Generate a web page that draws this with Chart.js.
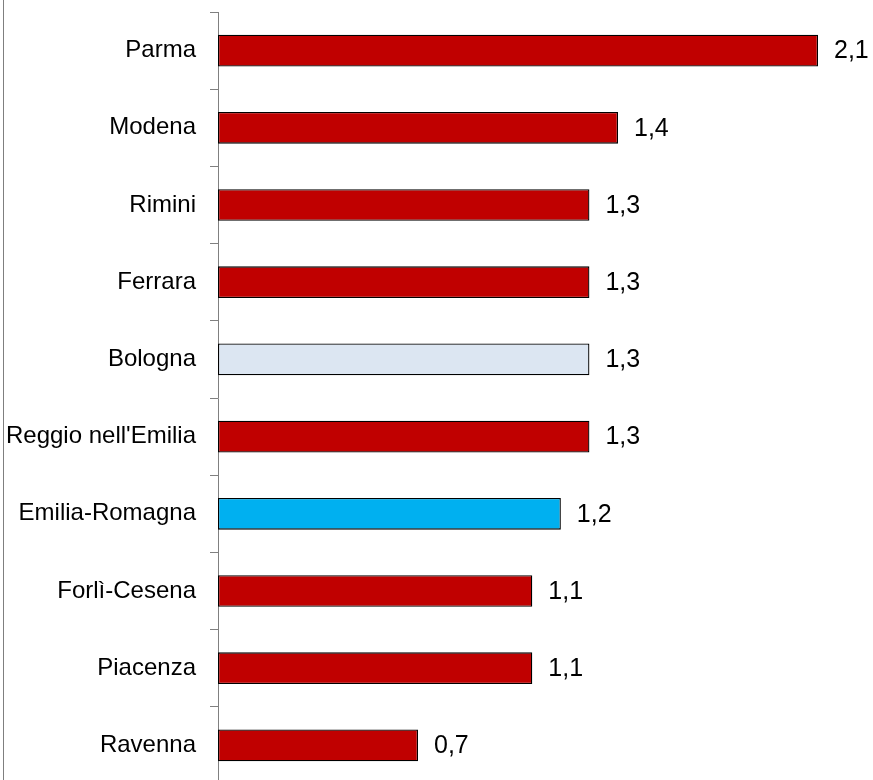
<!DOCTYPE html>
<html>
<head>
<meta charset="utf-8">
<script src="https://cdn.jsdelivr.net/npm/chart.js@4.4.1/dist/chart.umd.min.js"></script>
<style>
  html, body { margin: 0; padding: 0; background: #fff; overflow: hidden; }
  #wrap { position: relative; width: 873px; height: 800px; }
  #edge { position: absolute; left: 3px; top: 0; width: 1px; height: 780px; background: #7f7f7f; }
  canvas { position: absolute; left: 0; top: 0; }
</style>
</head>
<body>
<div id="wrap">
  <canvas id="c" width="873" height="800"></canvas>
  <div id="edge"></div>
</div>
<script>
const categories = ["Parma", "Modena", "Rimini", "Ferrara", "Bologna", "Reggio nell'Emilia", "Emilia-Romagna", "Forlì-Cesena", "Piacenza", "Ravenna"];
const values = [2.1, 1.4, 1.3, 1.3, 1.3, 1.3, 1.2, 1.1, 1.1, 0.7];
const barColors = ["#C00000", "#C00000", "#C00000", "#C00000", "#DCE6F2", "#C00000", "#00B0F0", "#C00000", "#C00000", "#C00000"];

const FONT = "'Liberation Sans', Arial, sans-serif";

const valueLabels = {
  id: 'valueLabels',
  afterDatasetsDraw(chart) {
    const ctx = chart.ctx;
    const meta = chart.getDatasetMeta(0);
    ctx.save();
    ctx.font = "25px " + FONT;
    ctx.fillStyle = "#000";
    ctx.textAlign = "left";
    ctx.textBaseline = "middle";
    meta.data.forEach((bar, i) => {
      const txt = values[i].toFixed(1).replace('.', ',');
      ctx.fillText(txt, bar.x + 16, bar.y + 1);
    });
    ctx.restore();
  }
};

new Chart(document.getElementById('c'), {
  type: 'bar',
  data: {
    labels: categories,
    datasets: [{
      data: values,
      backgroundColor: barColors,
      borderColor: "#000",
      borderWidth: 1.3,
      borderSkipped: false,
      categoryPercentage: 1,
      barPercentage: 0.41
    }]
  },
  options: {
    indexAxis: 'y',
    responsive: false,
    animation: false,
    devicePixelRatio: 1,
    layout: { padding: { left: 0, right: 0, top: 12, bottom: 16 } },
    plugins: { legend: { display: false }, tooltip: { enabled: false } },
    scales: {
      x: {
        display: false,
        min: 0,
        max: 2.2925
      },
      y: {
        afterFit(scale) { scale.width = 218; scale.paddingTop = 0; scale.paddingBottom = 0; },
        grid: {
          offset: true,
          drawOnChartArea: false,
          drawTicks: true,
          tickLength: 8,
          color: "#808080",
          lineWidth: 1
        },
        border: { display: true, color: "#808080", width: 1 },
        ticks: {
          color: "#000",
          font: { family: FONT, size: 24 },
          padding: 14
        }
      }
    }
  },
  plugins: [valueLabels]
});
</script>
</body>
</html>
